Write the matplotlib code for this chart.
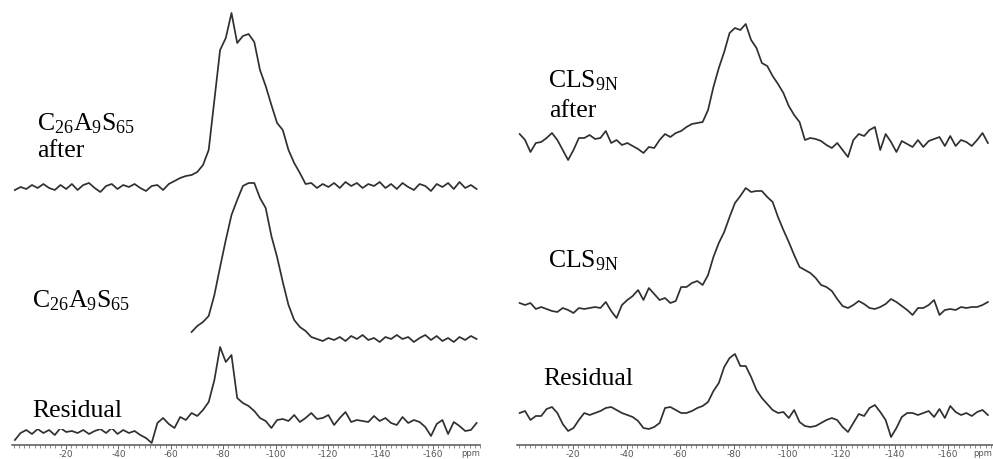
import numpy as np
import matplotlib
matplotlib.use("Agg")
import matplotlib.pyplot as plt
from matplotlib.ticker import MultipleLocator, FixedLocator
from matplotlib.patches import Rectangle

plt.rcParams["font.family"] = ["Liberation Serif", "DejaVu Serif"]
plt.rcParams["mathtext.fontset"] = "custom"
plt.rcParams["mathtext.rm"] = "Liberation Serif"
plt.rcParams["mathtext.it"] = "Liberation Serif:italic"

left_ppm = np.linspace(-0.5, -176.7, 82)
right_ppm = np.linspace(-0.1, -174.8, 88)

# left panel: C26A9S65 after, C26A9S65, residual (arbitrary intensity)
c26_after = [-2, 1, -1, 3, 0, 4, 0, -2, 3, -1,
             4, -2, 3, 5, 0, -4, 2, 4, -1, 3,
             1, 4, 0, -3, 2, 3, -2, 4, 7, 10,
             12, 13, 16, 23, 38, 88, 138, 150, 175, 145,
             152, 154, 146, 118, 102, 83, 65, 58, 38, 25,
             15, 4, 5, 0, 4, 1, 5, 0, 6, 2,
             5, 0, 4, 2, 6, 0, 4, -1, 5, 1,
             -2, 4, 2, -3, 4, 1, 5, -1, 6, 0,
             3, -1]
c26_before = [6, 12, 16, 22, 43, 71, 98, 123, 138, 152,
              155, 155, 140, 130, 102, 81, 56, 33, 18, 11,
              7, 1, -1, -3, 0, -2, 1, -3, 2, -1,
              3, -2, 0, -4, 1, -1, 3, -1, 1, -4,
              0, 3, -2, 2, -3, 0, -4, 1, -2, 2,
              -1]
c26_resid = [-15, -8, -5, -9, -4, -8, -5, -10, -3, -7,
             -6, -8, -5, -9, -6, -4, -8, -3, -9, -5,
             -8, -6, -10, -13, -18, 2, 7, 1, -3, 8,
             5, 12, 9, 15, 23, 45, 78, 63, 70, 27,
             22, 19, 14, 7, 4, -3, 5, 6, 4, 10,
             3, 7, 12, 6, 7, 10, 0, 7, 13, 3,
             5, 4, 3, 9, 4, 7, 2, 0, 8, 2,
             5, 3, -2, -11, 1, 5, -9, 3, -1, -6,
             -5, 2]

# right panel: CLS9N after, CLS9N, residual
cls_after = [9, 3, -9, 0, 1, 5, 10, 3, -7, -17,
             -7, 5, 5, 8, 4, 5, 12, 0, 3, -2,
             0, -3, -6, -10, -4, -5, 3, 9, 6, 10,
             12, 16, 19, 20, 21, 33, 56, 75, 91, 110,
             115, 113, 119, 103, 95, 80, 77, 67, 59, 50,
             37, 28, 21, 3, 5, 4, 2, -2, -5, 0,
             -7, -14, 3, 9, 7, 13, 16, -7, 9, 1,
             -9, 2, -1, -4, 3, -4, 2, 4, 6, -3,
             7, -3, 3, 1, -3, 3, 10, 0]
cls_before = [5, 3, 5, -1, 1, -1, -3, -4, 0, -2,
              -5, 0, -1, 0, 1, 0, 6, -3, -10, 3,
              8, 12, 18, 8, 20, 14, 8, 10, 5, 7,
              21, 21, 25, 27, 23, 33, 51, 65, 76, 91,
              105, 112, 120, 116, 117, 117, 111, 106, 91, 78,
              66, 53, 41, 38, 35, 30, 23, 21, 17, 9,
              2, 0, 3, 7, 4, 0, -1, 1, 4, 9,
              6, 2, -2, -7, 0, 0, 3, 8, -7, -2,
              -1, -2, 1, 0, 1, 1, 3, 6]
cls_resid = [2, 4, -5, -1, -1, 6, 8, 2, -9, -16,
             -13, -5, 2, 0, 2, 4, 7, 8, 5, 2,
             0, -2, -6, -13, -14, -12, -8, 7, 8, 5,
             2, 2, 4, 7, 9, 13, 24, 32, 48, 57,
             61, 49, 49, 38, 25, 17, 11, 5, 2, 3,
             -3, 5, -7, -11, -12, -11, -8, -5, -3, -5,
             -12, -17, -8, 1, -1, 7, 10, 3, -5, -22,
             -13, -2, 2, 2, 0, 2, 4, -2, 6, -3,
             9, 3, 0, 2, -1, 3, 5, 0]

tick_values = [-20, -40, -60, -80, -100, -120, -140, -160]

W, H = 993, 459
fig = plt.figure(figsize=(W / 100, H / 100), dpi=100)
axis_y = 444.5
line_kw = dict(color="#303030", lw=1.25, clip_on=False, zorder=2)


def make_axes(x0, x1, xlim):
    ax = fig.add_axes([x0 / W, (H - axis_y) / H, (x1 - x0) / W, axis_y / H])
    ax.set_xlim(*xlim)
    ax.set_ylim(0, axis_y)
    for s in ("top", "left", "right"):
        ax.spines[s].set_visible(False)
    ax.spines["bottom"].set_color("#555555")
    ax.spines["bottom"].set_linewidth(1.1)
    ax.set_yticks([])
    ax.xaxis.set_major_locator(FixedLocator(tick_values))
    ax.xaxis.set_minor_locator(MultipleLocator(2))
    ax.set_xticklabels([str(v) for v in tick_values])
    ax.tick_params(axis="x", which="major", length=3, width=0.7, color="#666666",
                   labelsize=6.5, labelcolor="#555555", pad=1)
    ax.tick_params(axis="x", which="minor", length=2, width=0.6, color="#777777")
    for lab in ax.get_xticklabels():
        lab.set_family("DejaVu Sans")
    ax.patch.set_alpha(0)
    return ax


axl = make_axes(12, 480, (0.6, -178))
axl.plot(left_ppm, np.array(c26_after) + 256.5, **line_kw)
axl.plot(left_ppm[31:], np.array(c26_before) + 106.5, **line_kw)
axl.plot(left_ppm, np.array(c26_resid) + 19.5, **line_kw)

axr = make_axes(517, 993, (0.9, -176.7))
axr.plot(right_ppm, np.array(cls_after) + 301.5, **line_kw)
axr.plot(right_ppm, np.array(cls_before) + 136.5, **line_kw)
axr.plot(right_ppm, np.array(cls_resid) + 29.5, **line_kw)

# white patch behind the left "Residual" label
fig.patches.append(Rectangle((0, (H - 429) / H), 145 / W, 46 / H,
                             transform=fig.transFigure, facecolor="white",
                             edgecolor="none", zorder=3))


def label(x, y, s):
    fig.text(x / W, (H - y) / H, s, fontsize=18.5, va="baseline", ha="left",
             color="black", zorder=5)


label(37, 130, r"$\mathrm{C_{26}A_9S_{65}}$")
label(37, 157, "after")
label(32, 307, r"$\mathrm{C_{26}A_9S_{65}}$")
label(32, 417, "Residual")
label(548, 87, r"$\mathrm{CLS_{9N}}$")
label(549, 117, "after")
label(548, 267, r"$\mathrm{CLS_{9N}}$")
label(543, 385, "Residual")

for px in (471, 983):
    fig.text(px / W, (H - 453) / H, "ppm", fontsize=6, color="#555555",
             ha="center", va="center", family="DejaVu Sans")

fig.savefig("out.png", dpi=100, facecolor="white")
